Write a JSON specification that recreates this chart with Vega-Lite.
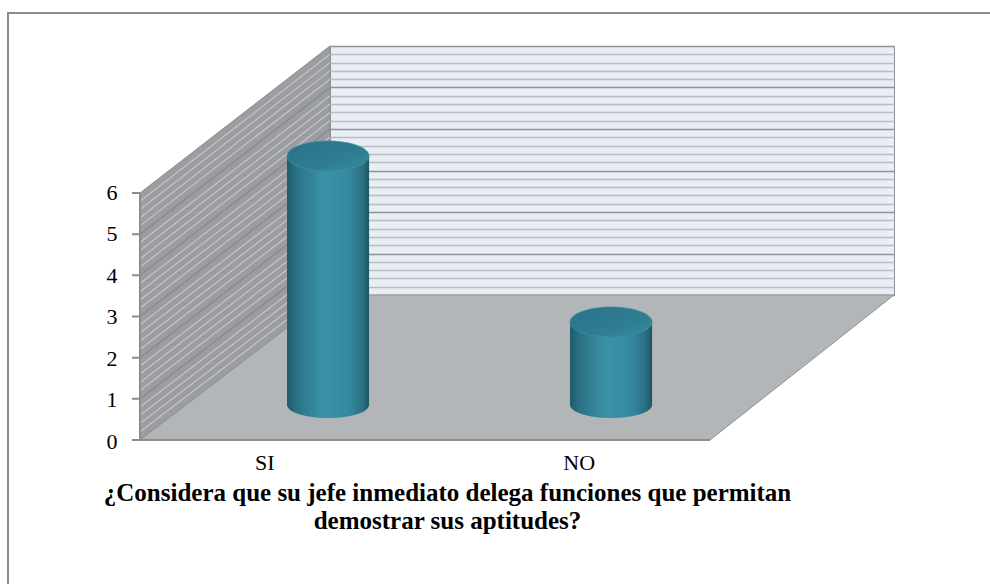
{
  "$schema": "https://vega.github.io/schema/vega-lite/v6.json",
  "autosize": {"type": "none"},
  "width": 564,
  "height": 249,
  "padding": {"left": 330, "top": 46, "right": 96, "bottom": 289},
  "background": "white",
  "config": {
    "view": {"fill": "#e8eef4", "stroke": "#8e9296", "strokeWidth": 1},
    "font": "Liberation Serif"
  },
  "data": {"values": [
    {"respuesta": "SI", "valor": 6},
    {"respuesta": "NO", "valor": 2}
  ]},
  "resolve": {"scale": {"x": "independent"}, "axis": {"x": "independent", "y": "independent"}},
  "layer": [
    {
      "data": {"values": [{}]},
      "mark": {"type": "point", "size": 4, "opacity": 1, "filled": false, "fill": "transparent", "stroke": "#8c8c8c", "strokeWidth": 2,
        "shape": "M 378 -157.5 L -604 -157.5 L -604 413.5"},
      "encoding": {}
    },
    {
      "data": {"values": [{}]},
      "mark": {"type": "point", "size": 4, "opacity": 1, "filled": true, "fill": "#9b9da0", "stroke": "#8a8c8f", "strokeWidth": 1,
        "shape": "M -472 269.5 L -472 22.5 L -282 -124.5 L -282 124.5 Z"},
      "encoding": {}
    },
    {
      "data": {"values": [{}]},
      "mark": {"type": "point", "size": 4, "opacity": 1, "filled": true, "fill": "#b2b6b9", "stroke": "#8e9194", "strokeWidth": 1,
        "shape": "M -472 269.5 L 98 269.5 L 282 124.5 L -282 124.5 Z"},
      "encoding": {}
    },
    {
      "data": {"values": [{}]},
      "mark": {"type": "point", "size": 4, "opacity": 1, "filled": false, "fill": "transparent", "stroke": "#c3c5c8", "strokeWidth": 1.2,
        "shape": "M -472 261.3 L -282 116.2 M -472 253.0 L -282 107.9 M -472 244.8 L -282 99.6 M -472 236.6 L -282 91.3 M -472 220.1 L -282 74.7 M -472 211.9 L -282 66.4 M -472 203.6 L -282 58.1 M -472 195.4 L -282 49.8 M -472 178.9 L -282 33.2 M -472 170.7 L -282 24.9 M -472 162.5 L -282 16.6 M -472 154.2 L -282 8.3 M -472 137.8 L -282 -8.3 M -472 129.5 L -282 -16.6 M -472 121.3 L -282 -24.9 M -472 113.1 L -282 -33.2 M -472 96.6 L -282 -49.8 M -472 88.4 L -282 -58.1 M -472 80.1 L -282 -66.4 M -472 71.9 L -282 -74.7 M -472 55.4 L -282 -91.3 M -472 47.2 L -282 -99.6 M -472 39.0 L -282 -107.9 M -472 30.7 L -282 -116.2"},
      "encoding": {}
    },
    {
      "data": {"values": [{}]},
      "mark": {"type": "point", "size": 4, "opacity": 1, "filled": false, "fill": "transparent", "stroke": "#86898c", "strokeWidth": 1.2,
        "shape": "M -472 228.3 L -282 83 M -472 187.2 L -282 41.5 M -472 146 L -282 0 M -472 104.8 L -282 -41.5 M -472 63.7 L -282 -83"},
      "encoding": {}
    },
    {
      "data": {"values": [{}]},
      "mark": {"type": "point", "size": 4, "opacity": 1, "filled": false, "fill": "transparent", "stroke": "#8c8c8c", "strokeWidth": 2,
        "shape": "M -472 22.5 L -472 269.5 L 98 269.5 M -480 269.5 L -472 269.5 M -480 228.3 L -472 228.3 M -480 187.2 L -472 187.2 M -480 146 L -472 146 M -480 104.8 L -472 104.8 M -480 63.7 L -472 63.7 M -480 22.5 L -472 22.5"},
      "encoding": {}
    },
    {
      "mark": {"type": "point", "opacity": 0},
      "encoding": {
        "x": {"field": "respuesta", "type": "nominal", "sort": null,
          "scale": {"type": "band", "paddingInner": 0.746, "paddingOuter": 0.27},
          "axis": {"orient": "bottom", "offset": 157, "labelOffset": -190, "labelPadding": 0, "ticks": false, "domain": false,
            "labelAngle": 0, "labelFont": "Liberation Serif", "labelFontSize": 22, "labelColor": "#000000", "labelBaseline": "top",
            "title": ["¿Considera que su jefe inmediato delega funciones que permitan", "demostrar sus aptitudes?"],
            "titleFont": "Liberation Serif", "titleFontSize": 25, "titleFontWeight": "bold", "titleColor": "#000000",
            "titleLineHeight": 28, "titleX": 117, "titleY": 28, "titleBaseline": "top", "titleAlign": "center", "titleAnchor": null}
        }
      }
    },
    {
      "mark": {"type": "bar", "xOffset": -150, "yOffset": 110, "y2Offset": 110,
        "fill": {"gradient": "linear", "x1": 0, "y1": 0, "x2": 1, "y2": 0,
          "stops": [
            {"offset": 0, "color": "#1f5a6a"},
            {"offset": 0.12, "color": "#2b7386"},
            {"offset": 0.45, "color": "#3b93a8"},
            {"offset": 0.75, "color": "#3489a0"},
            {"offset": 0.92, "color": "#2a6f82"},
            {"offset": 1, "color": "#1e5464"}
          ]}},
      "encoding": {
        "x": {"field": "respuesta", "type": "nominal", "sort": null,
          "scale": {"type": "band", "paddingInner": 0.7102, "paddingOuter": 0.3515, "align": 0.538}, "axis": null},
        "y": {"field": "valor", "type": "quantitative", "scale": {"domain": [0, 6], "nice": false},
          "axis": {"orient": "left", "values": [0, 0.2, 0.4, 0.6, 0.8, 1, 1.2, 1.4, 1.6, 1.8, 2, 2.2, 2.4, 2.6, 2.8, 3, 3.2, 3.4, 3.6, 3.8, 4, 4.2, 4.4, 4.6, 4.8, 5, 5.2, 5.4, 5.6, 5.8, 6],
            "grid": true, "labels": false, "ticks": false, "domain": false, "title": null, "gridWidth": 1.5,
            "gridColor": {"condition": {"test": "datum.value % 1 === 0", "value": "#8f9397"}, "value": "#b9bdc1"}}}
      }
    },
    {
      "mark": {"type": "point", "size": 4, "opacity": 1, "filled": true, "xOffset": -150, "yOffset": 110,
        "shape": "M -41 0 A 41 13 0 1 0 41 0 A 41 13 0 1 0 -41 0 Z",
        "fill": {"gradient": "linear", "x1": 0, "y1": 0, "x2": 1, "y2": 0,
          "stops": [
            {"offset": 0, "color": "#1f5a6a"},
            {"offset": 0.12, "color": "#2b7386"},
            {"offset": 0.45, "color": "#3b93a8"},
            {"offset": 0.75, "color": "#3489a0"},
            {"offset": 0.92, "color": "#2a6f82"},
            {"offset": 1, "color": "#1e5464"}
          ]}},
      "encoding": {
        "x": {"field": "respuesta", "type": "nominal", "sort": null,
          "scale": {"type": "band", "paddingInner": 0.7102, "paddingOuter": 0.3515, "align": 0.538}, "axis": null},
        "y": {"datum": 0, "type": "quantitative", "scale": {"domain": [0, 6], "nice": false}, "axis": null}
      }
    },
    {
      "mark": {"type": "point", "size": 4, "opacity": 1, "filled": true, "xOffset": -150, "yOffset": 110,
        "shape": "M -41 0 A 41 15 0 1 0 41 0 A 41 15 0 1 0 -41 0 Z",
        "fill": {"gradient": "linear", "x1": 0, "y1": 0, "x2": 1, "y2": 1,
          "stops": [
            {"offset": 0, "color": "#2a7286"},
            {"offset": 0.6, "color": "#2e7d91"},
            {"offset": 1, "color": "#378ba0"}
          ]},
        "stroke": "#3a90a5", "strokeWidth": 0.8},
      "encoding": {
        "x": {"field": "respuesta", "type": "nominal", "sort": null,
          "scale": {"type": "band", "paddingInner": 0.7102, "paddingOuter": 0.3515, "align": 0.538}, "axis": null},
        "y": {"field": "valor", "type": "quantitative", "scale": {"domain": [0, 6], "nice": false},
          "axis": {"orient": "left", "values": [0, 1, 2, 3, 4, 5, 6], "offset": 213, "labelOffset": 146, "labelPadding": 0,
            "ticks": false, "domain": false, "grid": false, "title": null,
            "labelFont": "Liberation Serif", "labelFontSize": 22, "labelColor": "#000000"}}
      }
    }
  ]
}
